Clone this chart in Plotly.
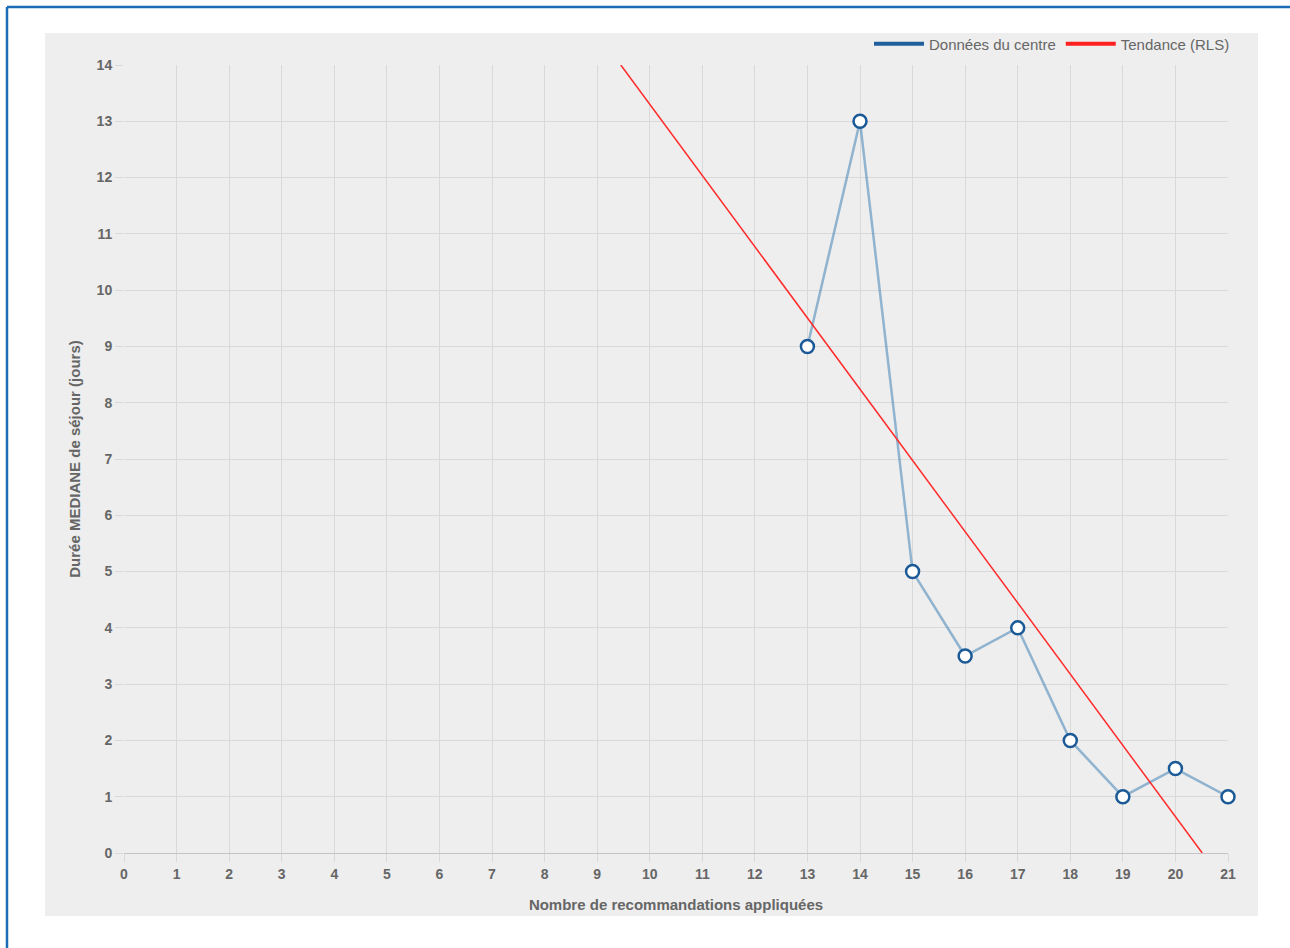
import plotly.graph_objects as go

# Data
x_recos = [13, 14, 15, 16, 17, 18, 19, 20, 21]
y_median = [9, 13, 5, 3.5, 4, 2, 1, 1.5, 1]
trend_x = [9.45, 20.51]
trend_y = [14, 0]
x_ticks = list(range(0, 22))
y_ticks = list(range(0, 15))

W, H = 1290, 948
L, R, T, B = 124, 1228, 65, 853
pw, ph = R - L, B - T


def px(v):
    return (v - L) / pw


def py(v):
    return (B - v) / ph


fig = go.Figure()

fig.add_trace(go.Scatter(
    x=x_recos, y=y_median, mode="lines+markers", showlegend=False,
    line=dict(color="rgba(50,120,175,0.5)", width=2.5),
    marker=dict(size=13, color="white", line=dict(color="#1b5a96", width=2.5)),
    name="Données du centre", cliponaxis=False,
))
fig.add_trace(go.Scatter(
    x=trend_x, y=trend_y, mode="lines", showlegend=False,
    line=dict(color="#ff2a2a", width=1.5), name="Tendance (RLS)",
))
# legend entries
fig.add_trace(go.Scatter(x=[None], y=[None], mode="lines", name="Données du centre",
                         line=dict(color="#1f5f9b", width=4)))
fig.add_trace(go.Scatter(x=[None], y=[None], mode="lines", name="Tendance (RLS)",
                         line=dict(color="#ff2020", width=4)))

font_fam = "Liberation Sans, Arial, sans-serif"
grid = "#d9d9d9"
fs = 15

fig.update_layout(
    width=W, height=H,
    margin=dict(l=L, r=W - R, t=T, b=H - B, autoexpand=False),
    paper_bgcolor="white",
    plot_bgcolor="#eeeeee",
    font=dict(family=font_fam, color="#666666", size=fs),
    legend=dict(orientation="h", x=px(1235), xanchor="right", y=py(44), yanchor="middle",
                bgcolor="rgba(0,0,0,0)", font=dict(size=fs, color="#666666"),
                itemwidth=50, traceorder="normal"),
    xaxis=dict(
        range=[0, 21], tickvals=x_ticks, ticktext=[str(v) for v in x_ticks],
        showgrid=True, gridcolor=grid, gridwidth=1,
        ticks="outside", ticklen=8, tickcolor=grid,
        tickfont=dict(size=fs - 1, color="#666666", family=font_fam, weight="bold"),
        zeroline=False, showline=False,
        title=dict(text="<b>Nombre de recommandations appliquées</b>", standoff=18,
                   font=dict(size=fs, color="#666666")),
    ),
    yaxis=dict(
        range=[0, 14], tickvals=y_ticks, ticktext=[str(v) for v in y_ticks],
        showgrid=True, gridcolor=grid, gridwidth=1,
        ticks="outside", ticklen=8, tickcolor=grid,
        tickfont=dict(size=fs - 1, color="#666666", family=font_fam, weight="bold"),
        zeroline=True, zerolinecolor="#c4c4c4", zerolinewidth=1, showline=False,
        title=dict(text="<b>Durée MEDIANE de séjour (jours)</b>", standoff=12,
                   font=dict(size=fs, color="#666666")),
    ),
    shapes=[
        dict(type="rect", xref="paper", yref="paper", layer="below",
             x0=px(45), x1=px(1258), y0=py(916), y1=py(33),
             fillcolor="#eeeeee", line=dict(width=0)),
        dict(type="line", xref="paper", yref="paper", layer="above",
             x0=px(7), x1=px(1300), y0=py(7), y1=py(7),
             line=dict(color="#1a6db5", width=2.5)),
        dict(type="line", xref="paper", yref="paper", layer="above",
             x0=px(7), x1=px(7), y0=py(7), y1=py(990),
             line=dict(color="#1a6db5", width=2.5)),
    ],
)

fig.write_html(
    "out.html",
    config={"displayModeBar": False},
    post_script="document.body.style.margin='0';document.body.style.overflow='hidden';",
)
